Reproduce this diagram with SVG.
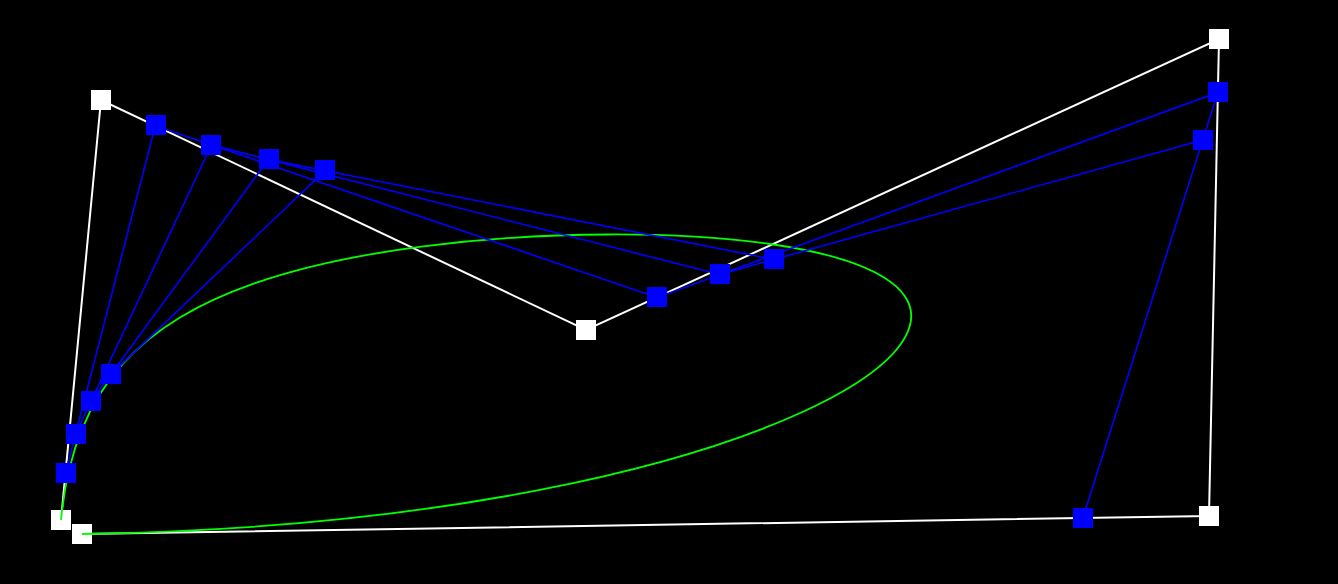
<svg xmlns="http://www.w3.org/2000/svg" width="1338" height="584" viewBox="0 0 1338 584">
<style>
.ctrl{fill:none;stroke:#ffffff;stroke-width:2}
.cons{fill:none;stroke:#0000ff;stroke-width:1.6}
.curve{fill:none;stroke:#00ff00;stroke-width:1.8}
.wp{fill:#ffffff}
.bp{fill:#0000ff}
</style>
<rect x="0" y="0" width="1338" height="584" fill="#000000"/>
<g id="control-polygon">
<polyline class="ctrl" points="61,520 101,100 586,330 1219,39 1209,516 82,534"/>
</g>
<g id="control-points">
<rect id="p0" class="wp" x="51" y="510" width="20" height="20"/>
<rect id="p1" class="wp" x="91" y="90" width="20" height="20"/>
<rect id="p2" class="wp" x="576" y="320" width="20" height="20"/>
<rect id="p3" class="wp" x="1209" y="29" width="20" height="20"/>
<rect id="p4" class="wp" x="1199" y="506" width="20" height="20"/>
<rect id="p5" class="wp" x="72" y="524" width="20" height="20"/>
</g>
<g id="curve">
<path class="curve" d="M61,520 C64.33,485 71.38,455.39 81.74,429.86 C92.10,404.33 105.77,382.88 122.29,364.47 C138.82,346.06 158.19,330.69 179.91,317.58 C201.63,304.46 225.70,293.60 251.55,284.41 C303.25,266.03 362.13,254.20 423.27,246.37 C484.41,238.54 547.80,234.78 607.99,234.49 C668.19,234.19 725.19,237.42 773.22,244.5 C821.25,251.58 860.30,262.59 884.43,277.79 C908.56,292.98 917.75,312.44 906.05,335.38 C894.34,358.32 861.73,384.81 802.40,412.02 C743.06,439.24 656.99,467.24 538.69,490.16 C420.39,513.09 269.83,531 82,534"/>
</g>
<g id="connectors">
<polyline class="cons" points="65.48,472.96 155.32,125.76 656.90,297.41 1217.88,92.42 1082.78,518.02"/>
<polyline class="cons" points="75.54,434.07 211.50,144.98 719.73,274.45 1202.75,140.09"/>
<polyline class="cons" points="90.77,401.69 268.42,159.48 773.83,259.40"/>
<polyline class="cons" points="110.67,374.56 325.03,170.67"/>
</g>
<g id="construction-points">
<rect id="q0" class="bp" x="56" y="463" width="20" height="20"/>
<rect id="q1" class="bp" x="146" y="115" width="20" height="20"/>
<rect id="q2" class="bp" x="647" y="287" width="20" height="20"/>
<rect id="q3" class="bp" x="1208" y="82" width="20" height="20"/>
<rect id="q4" class="bp" x="1073" y="508" width="20" height="20"/>
<rect id="r0" class="bp" x="66" y="424" width="20" height="20"/>
<rect id="r1" class="bp" x="201" y="135" width="20" height="20"/>
<rect id="r2" class="bp" x="710" y="264" width="20" height="20"/>
<rect id="r3" class="bp" x="1193" y="130" width="20" height="20"/>
<rect id="s0" class="bp" x="81" y="391" width="20" height="20"/>
<rect id="s1" class="bp" x="259" y="149" width="20" height="20"/>
<rect id="s2" class="bp" x="764" y="249" width="20" height="20"/>
<rect id="t0" class="bp" x="101" y="364" width="20" height="20"/>
<rect id="t1" class="bp" x="315" y="160" width="20" height="20"/>
</g>
</svg>
